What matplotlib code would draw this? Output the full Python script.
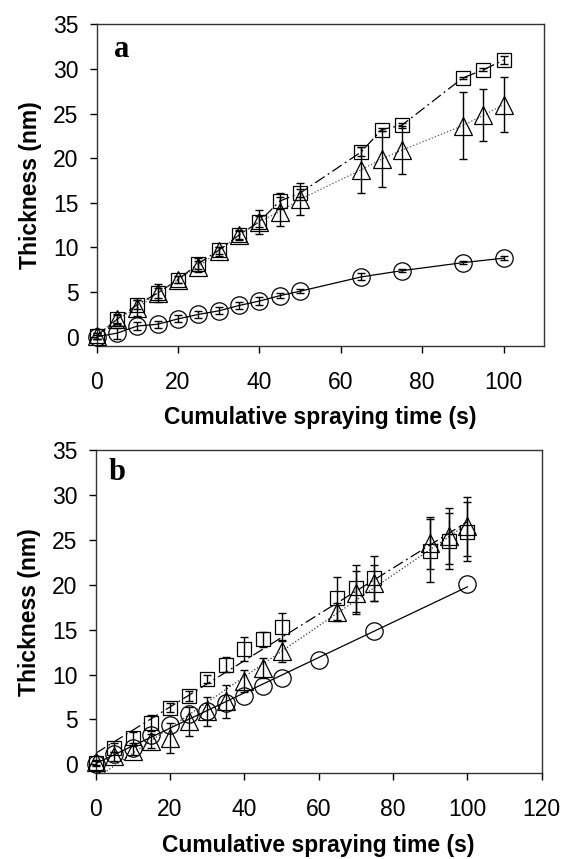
import matplotlib
matplotlib.use('Agg')
import matplotlib.pyplot as plt
import numpy as np

plt.rcParams['font.family'] = ['Liberation Sans', 'DejaVu Sans']

# ── panel a ──
a_circ_x = [0, 5, 10, 15, 20, 25, 30, 35, 40, 45, 50, 65, 75, 90, 100]
a_circ_y = [0.0, 0.4, 1.2, 1.4, 2.0, 2.5, 2.9, 3.5, 4.0, 4.6, 5.1, 6.7, 7.4, 8.3, 8.8]
a_circ_e = [0.2, 0.6, 0.4, 0.4, 0.4, 0.4, 0.4, 0.4, 0.4, 0.3, 0.2, 0.4, 0.2, 0.2, 0.2]

a_x = [0, 5, 10, 15, 20, 25, 30, 35, 40, 45, 50, 65, 70, 75, 90, 95, 100]
a_sq_y = [0.1, 1.95, 3.6, 4.9, 6.4, 8.2, 9.7, 11.4, 12.9, 15.2, 16.1, 20.7, 23.2, 23.7, 29.0, 29.9, 31.0]
a_sq_e = [0.3, 0.5, 0.5, 0.6, 0.4, 0.6, 0.4, 0.5, 0.6, 0.9, 0.5, 0.5, 0.2, 0.3, 0.1, 0.15, 0.5]
a_tri_y = [0.1, 2.0, 3.2, 4.9, 6.4, 7.85, 9.6, 11.4, 12.9, 14.0, 15.4, 18.7, 19.9, 20.9, 23.65, 24.8, 26.0]
a_tri_e = [0.3, 0.5, 0.9, 1.0, 0.4, 0.6, 0.5, 0.6, 1.35, 1.65, 1.8, 2.6, 3.1, 2.7, 3.75, 2.9, 3.05]

# ── panel b ──
b_circ_x = [0, 5, 10, 15, 20, 25, 30, 35, 40, 45, 50, 60, 75, 100]
b_circ_y = [0.0, 1.1, 1.85, 3.3, 4.4, 5.6, 5.9, 6.85, 7.6, 8.7, 9.6, 11.65, 14.9, 20.1]

b_x = [0, 5, 10, 15, 20, 25, 30, 35, 40, 45, 50, 65, 70, 75, 90, 95, 100]
b_sq_y = [0.1, 1.85, 2.95, 4.6, 6.3, 7.6, 9.5, 11.1, 12.8, 13.9, 15.3, 18.5, 19.6, 20.7, 23.8, 24.9, 25.9]
b_sq_e = [0.3, 0.5, 0.6, 0.9, 0.5, 0.6, 0.4, 0.8, 1.35, 0.85, 1.55, 2.4, 2.6, 2.5, 3.5, 3.1, 3.3]
b_tri_y = [0.2, 0.9, 1.5, 2.6, 2.95, 4.8, 5.9, 7.0, 9.25, 10.75, 12.6, 17.0, 19.1, 20.2, 24.6, 25.4, 26.5]
b_tri_e = [0.3, 0.5, 0.5, 0.8, 1.65, 1.6, 1.6, 1.85, 1.2, 1.1, 1.2, 1.0, 2.4, 2.0, 2.9, 3.1, 3.3]

DASHDOT = (0, (9, 3, 1.5, 3))
MS_C, MS_S, MS_T = 12.5, 10, 12.5
FS = 16.5


def style_axes(ax, xmax, xticks):
    ax.set_xlim(0, xmax)
    ax.set_ylim(-1, 35)
    ax.set_xticks(xticks)
    ax.set_yticks(range(0, 36, 5))
    for s in ax.spines.values():
        s.set_color('#333333')
        s.set_linewidth(1.0)
    ax.tick_params(axis='y', direction='out', length=5, width=1, pad=8,
                   labelsize=FS, right=False)
    ax.tick_params(axis='x', direction='out', length=5, width=1, pad=13,
                   labelsize=FS, top=False)
    ax.set_ylabel('Thickness (nm)', fontsize=FS, fontweight='bold', labelpad=8)
    ax.set_xlabel('Cumulative spraying time (s)', fontsize=FS,
                  fontweight='bold', labelpad=9)


def series(ax, x, y, err, marker, ms, ls, lc, line=True):
    if line:
        ax.plot(x, y, ls=ls, color=lc, lw=0.9, zorder=2)
    if err is not None:
        ax.errorbar(x, y, yerr=err, fmt='none', ecolor='black', elinewidth=1,
                    capsize=3, capthick=1, zorder=3, clip_on=False)
    ax.plot(x, y, ls='none', marker=marker, ms=ms, mfc='none', mec='black',
            mew=0.9, zorder=4, clip_on=False)


fig = plt.figure(figsize=(5.65, 8.59), dpi=100)
ax1 = fig.add_axes([0.1711, 0.5976, 0.7923, 0.3741])
ax2 = fig.add_axes([0.1694, 0.0998, 0.7894, 0.3763])

# panel a - points joined
series(ax1, a_circ_x, a_circ_y, a_circ_e, 'o', MS_C, '-', 'black')
series(ax1, a_x, a_sq_y, a_sq_e, 's', MS_S, DASHDOT, 'black')
series(ax1, a_x, a_tri_y, a_tri_e, '^', MS_T, ':', '#555555')
style_axes(ax1, 110, range(0, 101, 20))
ax1.text(0.056, 0.923, 'a', transform=ax1.transAxes, ha='center', va='center',
         fontsize=22, fontweight='bold', family='Liberation Serif')

# panel b - linear trend lines
for x, y, ls, lc in [(b_circ_x, b_circ_y, '-', 'black'),
                     (b_x, b_sq_y, DASHDOT, 'black'),
                     (b_x, b_tri_y, ':', '#333333')]:
    k, c = np.polyfit(x, y, 1)
    xx = np.array([0, 100])
    ax2.plot(xx, k * xx + c, ls=ls, color=lc, lw=0.9, zorder=2)
series(ax2, b_circ_x, b_circ_y, None, 'o', MS_C, '-', 'black', line=False)
series(ax2, b_x, b_sq_y, b_sq_e, 's', MS_S, DASHDOT, 'black', line=False)
series(ax2, b_x, b_tri_y, b_tri_e, '^', MS_T, ':', '#333333', line=False)
style_axes(ax2, 120, range(0, 121, 20))
ax2.text(0.047, 0.929, 'b', transform=ax2.transAxes, ha='center', va='center',
         fontsize=22, fontweight='bold', family='Liberation Serif')

fig.savefig('out.png', dpi=100, facecolor='white')
